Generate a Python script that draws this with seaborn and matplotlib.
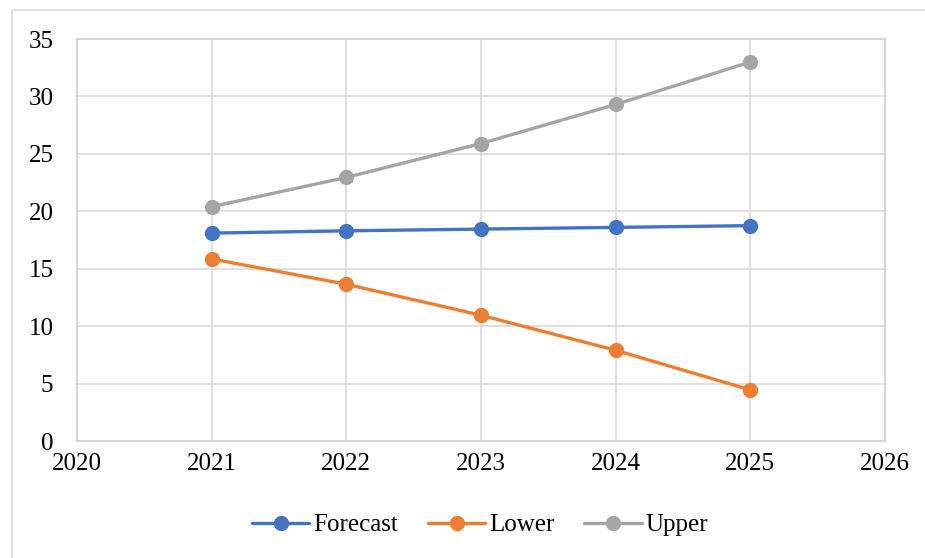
import matplotlib
matplotlib.use("Agg")
import matplotlib.pyplot as plt
import seaborn as sns
import pandas as pd
from matplotlib.patches import Rectangle

years = [2021, 2022, 2023, 2024, 2025]
forecast = [18.1, 18.3, 18.45, 18.6, 18.75]
lower = [15.85, 13.65, 10.95, 7.9, 4.45]
upper = [20.4, 22.95, 25.9, 29.3, 33.0]
series_names = ["Forecast", "Lower", "Upper"]
colors = ["#4472C4", "#ED7D31", "#A5A5A5"]
x_ticks = [2020, 2021, 2022, 2023, 2024, 2025, 2026]
y_ticks = [0, 5, 10, 15, 20, 25, 30, 35]

df = pd.concat([
    pd.DataFrame({"Year": years, "Value": vals, "Series": name})
    for name, vals in zip(series_names, [forecast, lower, upper])
])

sns.set_theme(style="white")
plt.rcParams["font.family"] = ["Liberation Serif", "DejaVu Serif"]

fig = plt.figure(figsize=(9.25, 5.58), dpi=100)
fig.patches.append(Rectangle((12 / 925, -0.1), 1.2, 1 - 10 / 558 + 0.1,
                             transform=fig.transFigure, fill=False,
                             edgecolor="#D9D9D9", linewidth=1.2))
ax = fig.add_axes([77 / 925, 1 - 441 / 558, (885 - 77) / 925, (441 - 39) / 558])

sns.lineplot(data=df, x="Year", y="Value", hue="Series", hue_order=series_names,
             palette=colors, marker="o", markersize=11, markeredgewidth=0,
             linewidth=2.4, ax=ax, legend=True)

ax.set_xlim(2020, 2026)
ax.set_ylim(0, 35)
ax.set_xticks(x_ticks)
ax.set_yticks(y_ticks)
ax.set_xticklabels([str(t) for t in x_ticks], fontsize=18, color="black")
ax.set_yticklabels([str(t) for t in y_ticks], fontsize=18, color="black")
ax.set_xlabel("")
ax.set_ylabel("")
ax.grid(True, color="#D9D9D9", linewidth=1.2)
ax.set_axisbelow(True)
for s in ax.spines.values():
    s.set_color("#D0D0D0")
    s.set_linewidth(1.2)
ax.tick_params(axis="y", length=0, pad=17)
ax.tick_params(axis="x", length=0, pad=9)

handles, labels = ax.get_legend_handles_labels()
leg = ax.legend(handles, labels, loc="center", bbox_to_anchor=(480 / 925, 1 - 525 / 558),
                bbox_transform=fig.transFigure, ncol=3, frameon=False, fontsize=18,
                handlelength=2.3, handletextpad=0.15, columnspacing=1.2)
for t in leg.get_texts():
    t.set_color("black")

fig.savefig("out.png", dpi=100)
